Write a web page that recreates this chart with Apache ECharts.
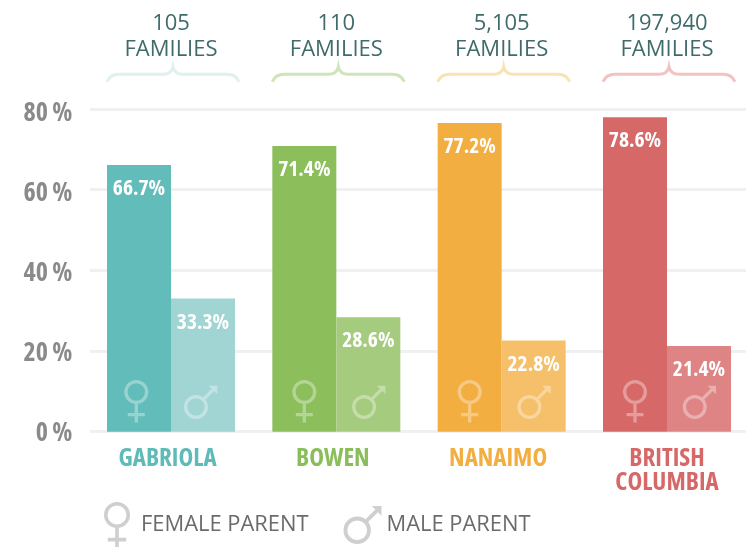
<!DOCTYPE html>
<html>
<head>
<meta charset="utf-8">
<style>
  html, body { margin: 0; padding: 0; background: #fff; }
  #chart { width: 751px; height: 547px; }
</style>
<script src="https://cdn.jsdelivr.net/npm/echarts@6/dist/echarts.min.js"></script>
</head>
<body>
<div id="chart"></div>
<script>
const places = ['GABRIOLA', 'BOWEN', 'NANAIMO', 'BRITISH\nCOLUMBIA']
const families = ['105\nFAMILIES', '110\nFAMILIES', '5,105\nFAMILIES', '197,940\nFAMILIES']
const femaleShare = [66.7, 71.4, 77.2, 78.6]
const maleShare = [33.3, 28.6, 22.8, 21.4]
const yTicks = [0, 20, 40, 60, 80]

const femaleColors = ['#62bcb9', '#8cbf5c', '#f3ae42', '#d66868']
const maleColors = ['#a1d5d4', '#a5cb7e', '#f5c069', '#df8484']
const textColors = ['#5fbbb8', '#8abe5a', '#f3ae42', '#d66868']
const braceColors = ['#dff0ef', '#cfe4b8', '#fbe2b3', '#f1c4c3']

const CONDENSED = 'bold condensed'
const FEMALE_ICON = 'path://M12 0A12 12 0 1 1 12 24A12 12 0 1 1 12 0ZM12 3.3A8.7 8.7 0 1 0 12 20.7A8.7 8.7 0 1 0 12 3.3ZM10.35 23.5L13.65 23.5L13.65 33L20.5 33L20.5 36.3L13.65 36.3L13.65 42.4L10.35 42.4L10.35 36.3L3.5 36.3L3.5 33L10.35 33Z'
const MALE_ICON = 'path://M12 9.3A12 12 0 1 1 12 33.3A12 12 0 1 1 12 9.3ZM12 12.6A8.7 8.7 0 1 0 12 30A8.7 8.7 0 1 0 12 12.6ZM18.83 12.13L28.83 2.13L31.17 4.47L21.17 14.47ZM24.8 0L33.3 0L33.3 8.5Z'
const BRACE = 'M0 15C2 10 5 7.5 12 7.5L56 7.5C61 7.5 65 5 66 0C67 5 71 7.5 76 7.5L120 7.5C127 7.5 130 10 132 15'

const chart = echarts.init(document.getElementById('chart'))

const valueLabel = {
  show: true,
  position: 'insideTop',
  distance: 13,
  color: '#fff',
  fontFamily: '"Open Sans"',
  fontWeight: CONDENSED,
  fontSize: 21.5,
  formatter: p => p.value.toFixed(1) + '%'
}

function barData(values, colors) {
  return values.map((v, i) => ({ value: v, itemStyle: { color: colors[i] } }))
}

// place names sit a little left of the bar pairs, except the two line one
const placeRich = {}
textColors.forEach((c, i) => {
  placeRich['c' + i] = {
    color: c,
    fontFamily: '"Open Sans"',
    fontWeight: CONDENSED,
    fontSize: 25,
    lineHeight: 24,
    padding: [0, i === 3 ? 0 : 7, 0, 0]
  }
})

chart.setOption({
  animation: false,
  backgroundColor: '#fff',
  grid: [
    { left: 90, width: 656, top: 109, height: 322.7 },
    { left: 88.33, width: 661.33, top: 111.7, height: 320 }
  ],
  legend: {
    left: 104,
    top: 502,
    padding: 0,
    itemWidth: 38,
    itemHeight: 46,
    itemGap: 35,
    symbolKeepAspect: true,
    selectedMode: false,
    textStyle: { fontFamily: '"Open Sans"', fontSize: 21.9, color: '#6b6b6b', padding: [0, 0, 5, 0] },
    data: [
      { name: 'FEMALE PARENT', icon: FEMALE_ICON, itemStyle: { color: '#cfcfcf' } },
      { name: 'MALE PARENT', icon: MALE_ICON, itemStyle: { color: '#cfcfcf' } }
    ]
  },
  xAxis: [
    { gridIndex: 0, type: 'category', data: places, show: false },
    {
      gridIndex: 1,
      type: 'category',
      data: places,
      axisLine: { show: false },
      axisTick: { show: false },
      axisLabel: {
        margin: 15,
        interval: 0,
        formatter: (v, i) => v.split('\n').map(t => '{c' + i + '|' + t + '}').join('\n'),
        rich: placeRich
      }
    },
    {
      gridIndex: 1,
      type: 'category',
      position: 'top',
      data: families,
      axisLine: { show: false },
      axisTick: { show: false },
      axisLabel: {
        margin: 48.5,
        interval: 0,
        fontFamily: '"Open Sans"',
        fontSize: 22,
        lineHeight: 26,
        color: '#3f6b6b'
      }
    }
  ],
  yAxis: [
    {
      gridIndex: 0,
      type: 'value',
      min: yTicks[0],
      max: yTicks[yTicks.length - 1],
      interval: 20,
      axisLine: { show: false },
      axisTick: { show: false },
      axisLabel: { show: false },
      splitLine: { lineStyle: { color: '#f0f0f0', width: 3 } }
    },
    {
      gridIndex: 1,
      type: 'value',
      min: yTicks[0],
      max: yTicks[yTicks.length - 1],
      interval: 20,
      axisLine: { show: false },
      axisTick: { show: false },
      splitLine: { show: false },
      axisLabel: {
        margin: 16,
        formatter: '{t|{value}\u2009%}',
        rich: {
          t: {
            padding: [4, 0, 0, 0],
            fontFamily: '"Open Sans"',
            fontWeight: CONDENSED,
            fontSize: 26,
            color: '#8a8a8a'
          }
        }
      }
    }
  ],
  series: [
    {
      name: 'FEMALE PARENT',
      type: 'bar',
      xAxisIndex: 1,
      yAxisIndex: 1,
      barWidth: 64,
      barGap: 0,
      data: barData(femaleShare, femaleColors),
      label: valueLabel
    },
    {
      name: 'MALE PARENT',
      type: 'bar',
      xAxisIndex: 1,
      yAxisIndex: 1,
      barWidth: 64,
      barGap: 0,
      data: barData(maleShare, maleColors),
      label: valueLabel
    },
    {
      type: 'scatter',
      xAxisIndex: 1,
      yAxisIndex: 1,
      silent: true,
      z: 5,
      symbol: FEMALE_ICON,
      symbolSize: 42.4,
      symbolKeepAspect: true,
      itemStyle: { color: 'rgba(255,255,255,0.35)', opacity: 1 },
      data: places.map((p, i) => ({ value: [i, 0], symbolOffset: [i === 0 ? -34.7 : -32, -30.5] }))
    },
    {
      type: 'scatter',
      xAxisIndex: 1,
      yAxisIndex: 1,
      silent: true,
      z: 5,
      symbol: MALE_ICON,
      symbolSize: 33.3,
      symbolKeepAspect: true,
      itemStyle: { color: 'rgba(255,255,255,0.35)', opacity: 1 },
      data: places.map((p, i) => ({ value: [i, 0], symbolOffset: [i === 0 ? 29.6 : 32.4, -29.4] }))
    },
    {
      type: 'custom',
      xAxisIndex: 1,
      yAxisIndex: 1,
      silent: true,
      data: places.map((p, i) => [i, 0]),
      renderItem(params, api) {
        const x = api.coord([api.value(0), 0])[0]
        return {
          type: 'path',
          shape: { pathData: BRACE, x: x - 64, y: 66.7, width: 132, height: 15, layout: 'cover' },
          style: { fill: 'none', stroke: braceColors[params.dataIndex], lineWidth: 3 }
        }
      }
    }
  ]
})
</script>
</body>
</html>
